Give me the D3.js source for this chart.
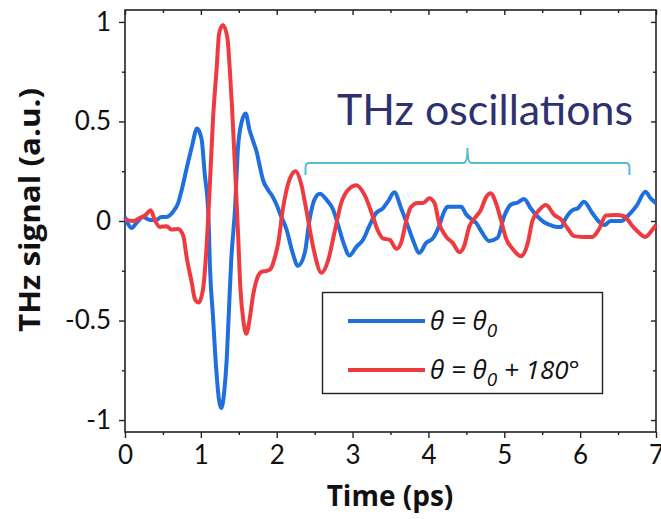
<!DOCTYPE html>
<html>
<head>
<meta charset="utf-8">
<script src="https://cdn.jsdelivr.net/npm/d3@7/dist/d3.min.js"></script>
<style>
  html, body { margin: 0; padding: 0; background: #fff; }
  svg { display: block; }
</style>
</head>
<body>
<svg id="chart" width="661" height="519"></svg>
<script>
// Time axis (ps) and signal samples for the two polarisation angles
const blueTime = [0.00,0.09,0.15,0.24,0.33,0.41,0.48,0.54,0.64,0.70,0.75,0.81,0.88,0.95,1.01,1.05,1.10,1.12,1.16,1.20,1.24,1.27,1.31,1.34,1.37,1.40,1.45,1.49,1.54,1.59,1.64,1.69,1.73,1.78,1.82,1.88,1.95,2.00,2.04,2.13,2.21,2.28,2.37,2.43,2.50,2.57,2.65,2.74,2.81,2.88,2.96,3.05,3.14,3.22,3.31,3.40,3.47,3.55,3.64,3.73,3.80,3.88,3.97,4.06,4.14,4.20,4.25,4.34,4.43,4.50,4.58,4.63,4.71,4.80,4.91,5.00,5.09,5.18,5.26,5.35,5.44,5.52,5.59,5.70,5.75,5.81,5.90,5.97,6.05,6.16,6.24,6.32,6.40,6.54,6.64,6.75,6.86,6.93,7.00];
const blueSignal = [0.02,-0.035,-0.01,0.02,0.005,0.005,0.02,0.02,0.05,0.09,0.16,0.26,0.37,0.465,0.41,0.24,0.025,-0.23,-0.48,-0.73,-0.90,-0.94,-0.85,-0.70,-0.45,-0.20,0.06,0.37,0.50,0.54,0.46,0.40,0.355,0.27,0.205,0.16,0.12,0.08,0.04,-0.043,-0.16,-0.225,-0.16,0.0,0.11,0.137,0.11,0.06,-0.02,-0.11,-0.173,-0.13,-0.093,-0.026,0.04,0.064,0.10,0.145,0.064,-0.026,-0.10,-0.16,-0.11,-0.086,-0.026,0.04,0.071,0.071,0.071,0.032,0.005,-0.01,-0.06,-0.10,-0.085,0.025,0.083,0.093,0.11,0.063,0.022,-0.005,-0.018,-0.03,-0.03,0.014,0.055,0.064,0.097,0.04,0.0,-0.02,0.0,0.0,0.03,0.08,0.147,0.114,0.09];

const redTime = [0.00,0.11,0.20,0.27,0.34,0.39,0.46,0.55,0.61,0.70,0.77,0.81,0.88,0.92,0.97,1.03,1.07,1.12,1.16,1.21,1.24,1.29,1.35,1.38,1.41,1.45,1.49,1.52,1.56,1.60,1.64,1.69,1.75,1.80,1.87,1.92,1.97,2.02,2.08,2.17,2.25,2.32,2.39,2.48,2.59,2.68,2.76,2.85,2.95,3.05,3.16,3.27,3.33,3.40,3.49,3.58,3.64,3.71,3.77,3.86,3.93,4.01,4.08,4.14,4.23,4.32,4.41,4.47,4.54,4.61,4.69,4.76,4.82,4.89,4.96,5.02,5.11,5.22,5.31,5.37,5.46,5.55,5.66,5.75,5.83,5.92,6.03,6.16,6.25,6.34,6.47,6.58,6.69,6.78,6.86,6.95,7.00];
const redSignal = [0.007,0.0,0.016,0.03,0.054,0.007,-0.03,-0.026,-0.043,-0.04,-0.076,-0.176,-0.31,-0.39,-0.41,-0.34,-0.16,0.19,0.51,0.775,0.94,0.985,0.92,0.77,0.58,0.27,-0.06,-0.33,-0.50,-0.566,-0.50,-0.37,-0.28,-0.255,-0.25,-0.24,-0.19,-0.11,0.057,0.21,0.25,0.19,0.057,-0.13,-0.26,-0.195,-0.06,0.09,0.16,0.18,0.13,0.02,-0.045,-0.087,-0.095,-0.14,-0.11,0.005,0.07,0.09,0.09,0.114,0.09,-0.01,-0.077,-0.11,-0.157,-0.127,-0.026,0.014,0.055,0.12,0.14,0.09,0.0,-0.084,-0.14,-0.177,-0.11,0.0,0.055,0.08,0.03,0.007,-0.034,-0.076,-0.08,-0.08,-0.04,0.028,0.03,0.024,-0.026,-0.06,-0.08,-0.045,-0.02];

const xTicks = [0, 1, 2, 3, 4, 5, 6, 7];
const xMinorTicks = [0.5, 1.5, 2.5, 3.5, 4.5, 5.5, 6.5];
const yTicks = [-1, -0.5, 0, 0.5, 1];
const yMinorTicks = [-0.75, -0.25, 0.25, 0.75];
const yTickLabels = ["-1", "-0.5", "0", "0.5", "1"];

const seriesNames = ["θ = θ0", "θ = θ0 + 180°"];
const annotation = "THz oscillations";
const xTitle = "Time (ps)";
const yTitle = "THz signal (a.u.)";

const blueColor = "#1f6fdf";
const redColor = "#ee3b40";

const svg = d3.select("#chart");
const plotLeft = 125, plotRight = 656, plotTop = 10, plotBottom = 432;

const x = d3.scaleLinear().domain([0, 7]).range([plotLeft, plotRight]);
const y = d3.scaleLinear().domain([-1.06, 1.06]).range([plotBottom, plotTop]);

const tickFont = "Lato, 'Open Sans', sans-serif";
const axisColor = "#222";

// Axes: outward ticks on bottom/left, inward mirrored ticks on top/right
function styleAxis(g) {
  g.select(".domain").remove();
  g.selectAll(".tick line").attr("stroke", axisColor).attr("stroke-width", 1.4);
}

svg.append("g").attr("transform", `translate(0,${plotBottom})`)
  .call(d3.axisBottom(x).tickValues(xTicks).tickSize(6).tickPadding(8).tickFormat(d3.format("d")))
  .call(styleAxis)
  .call(g => g.selectAll("text").attr("font-family", tickFont).attr("font-size", 26).attr("fill", "#111"));
svg.append("g").attr("transform", `translate(0,${plotBottom})`)
  .call(d3.axisBottom(x).tickValues(xMinorTicks).tickSize(3).tickFormat(""))
  .call(styleAxis);

svg.append("g").attr("transform", `translate(0,${plotTop})`)
  .call(d3.axisTop(x).tickValues(xTicks).tickSize(-5).tickFormat(""))
  .call(styleAxis);
svg.append("g").attr("transform", `translate(0,${plotTop})`)
  .call(d3.axisTop(x).tickValues(xMinorTicks).tickSize(-3).tickFormat(""))
  .call(styleAxis);

svg.append("g").attr("transform", `translate(${plotLeft},0)`)
  .call(d3.axisLeft(y).tickValues(yTicks).tickSize(6).tickPadding(8)
    .tickFormat(d => yTickLabels[yTicks.indexOf(d)]))
  .call(styleAxis)
  .call(g => g.selectAll("text").attr("font-family", tickFont).attr("font-size", 26).attr("fill", "#111"));
svg.append("g").attr("transform", `translate(${plotLeft},0)`)
  .call(d3.axisLeft(y).tickValues(yMinorTicks).tickSize(3).tickFormat(""))
  .call(styleAxis);

svg.append("g").attr("transform", `translate(${plotRight},0)`)
  .call(d3.axisRight(y).tickValues(yTicks).tickSize(-5).tickFormat(""))
  .call(styleAxis);
svg.append("g").attr("transform", `translate(${plotRight},0)`)
  .call(d3.axisRight(y).tickValues(yMinorTicks).tickSize(-3).tickFormat(""))
  .call(styleAxis);

// Plot frame
svg.append("rect")
  .attr("x", plotLeft).attr("y", plotTop)
  .attr("width", plotRight - plotLeft).attr("height", plotBottom - plotTop)
  .attr("fill", "none").attr("stroke", axisColor).attr("stroke-width", 1.6);

// Signal traces
const line = d3.line().x(d => x(d[0])).y(d => y(d[1])).curve(d3.curveMonotoneX);
const blueData = blueTime.map((t, i) => [t, blueSignal[i]]);
const redData = redTime.map((t, i) => [t, redSignal[i]]);

svg.append("path").datum(blueData)
  .attr("d", line).attr("fill", "none")
  .attr("stroke", blueColor).attr("stroke-width", 4).attr("stroke-linejoin", "round");
svg.append("path").datum(redData)
  .attr("d", line).attr("fill", "none")
  .attr("stroke", redColor).attr("stroke-width", 4).attr("stroke-linejoin", "round");

// Axis titles
svg.append("text")
  .attr("x", 390).attr("y", 506)
  .attr("text-anchor", "middle")
  .attr("font-family", "'Open Sans', sans-serif").attr("font-weight", 700)
  .attr("font-size", 28).attr("fill", "#111")
  .text(xTitle);

svg.append("text")
  .attr("transform", "translate(40,210) rotate(-90)")
  .attr("text-anchor", "middle")
  .attr("font-family", "'Open Sans', sans-serif").attr("font-weight", 700)
  .attr("font-size", 28).attr("fill", "#111")
  .attr("textLength", 244).attr("lengthAdjust", "spacingAndGlyphs")
  .text(yTitle);

// Bracket marking the oscillation window
const bx0 = x(2.38), bx1 = x(6.65), bmid = (bx0 + bx1) / 2;
const bY = 163, bEnd = 175, bTip = 148;
const bracket = d3.path();
bracket.moveTo(bx0, bEnd);
bracket.lineTo(bx0, bY + 4);
bracket.quadraticCurveTo(bx0, bY, bx0 + 4, bY);
bracket.lineTo(bmid - 4, bY);
bracket.quadraticCurveTo(bmid, bY, bmid, bTip);
bracket.quadraticCurveTo(bmid, bY, bmid + 4, bY);
bracket.lineTo(bx1 - 4, bY);
bracket.quadraticCurveTo(bx1, bY, bx1, bY + 4);
bracket.lineTo(bx1, bEnd);
svg.append("path").attr("d", bracket.toString())
  .attr("fill", "none").attr("stroke", "#55bcd4").attr("stroke-width", 2);

svg.append("text")
  .attr("x", 337).attr("y", 125)
  .attr("font-family", "Lato, 'Open Sans', sans-serif").attr("font-weight", 400)
  .attr("font-size", 42).attr("fill", "#2e3170")
  .attr("textLength", 296).attr("lengthAdjust", "spacingAndGlyphs")
  .text(annotation);

// Legend
const legend = svg.append("g");
legend.append("rect")
  .attr("x", 322.5).attr("y", 292.5).attr("width", 280).attr("height", 101)
  .attr("fill", "#fff").attr("stroke", axisColor).attr("stroke-width", 1.4);

const legendRows = [
  { color: blueColor, y: 321, base: "θ = θ", sub: "0", tail: "" },
  { color: redColor, y: 370, base: "θ = θ", sub: "0", tail: " + 180°" }
];
legendRows.forEach((r, i) => {
  legend.append("line")
    .attr("x1", 348).attr("x2", 425).attr("y1", r.y).attr("y2", r.y)
    .attr("stroke", r.color).attr("stroke-width", 4);
  const t = legend.append("text")
    .attr("x", 430).attr("y", r.y + 9)
    .attr("font-family", "'Open Sans', sans-serif").attr("font-style", "italic")
    .attr("font-size", 26).attr("fill", "#111")
    .attr("aria-label", seriesNames[i]);
  t.append("tspan").text(r.base);
  t.append("tspan").attr("dy", 7).attr("font-size", 19).text(r.sub);
  if (r.tail) t.append("tspan").attr("dy", -7).text(r.tail);
});
</script>
</body>
</html>
